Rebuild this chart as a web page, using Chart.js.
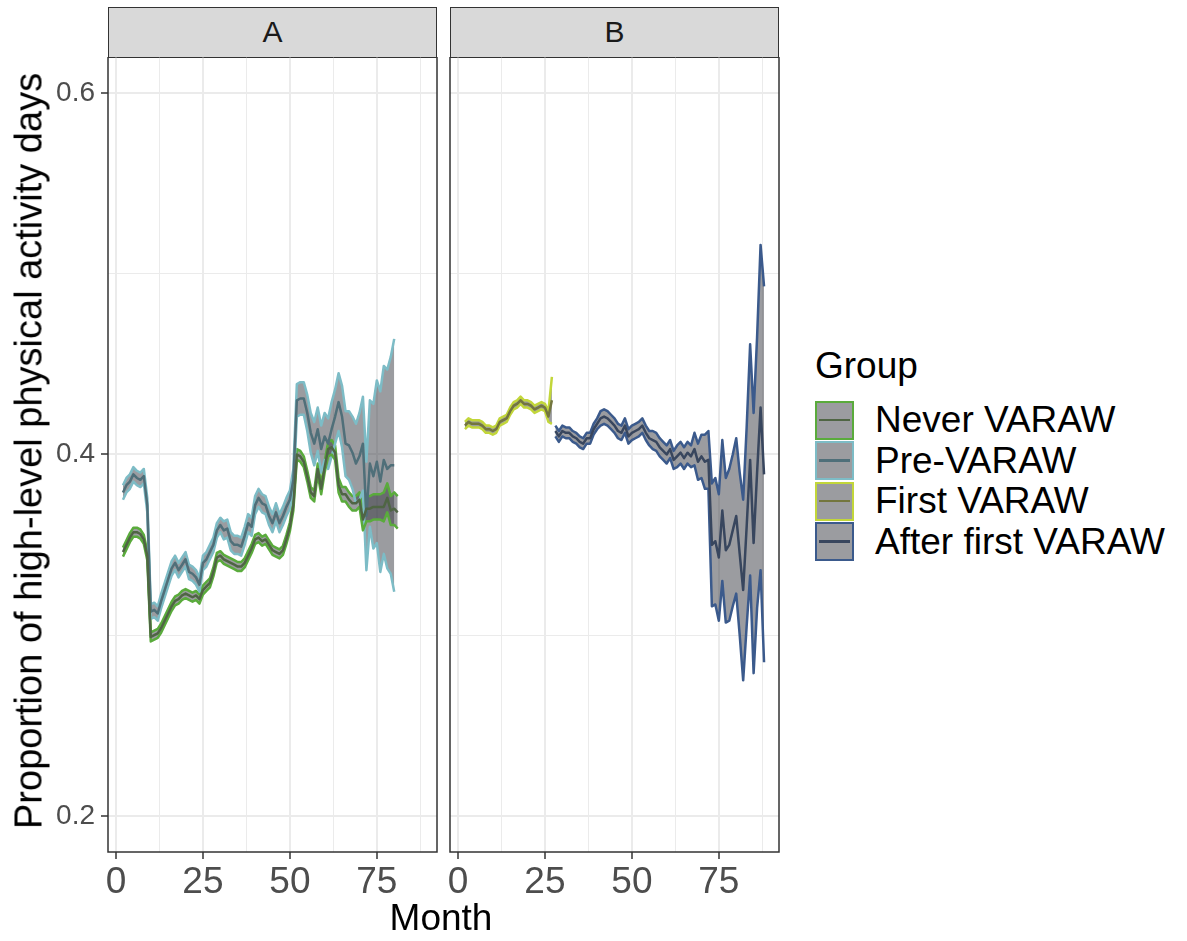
<!DOCTYPE html>
<html>
<head>
<meta charset="utf-8">
<script src="https://cdn.jsdelivr.net/npm/chart.js@4.4.0/dist/chart.umd.min.js"></script>
<style>
    body { margin: 0; background: #fff; width: 1187px; height: 941px; position: relative; overflow: hidden;
           font-family: 'Liberation Sans', Arial, sans-serif; }
    canvas { position: absolute; top: 57px; }
    .strip { position: absolute; top: 7px; height: 51px; width: 329px; background: #d9d9d9; border: 1.5px solid #333;
             box-sizing: border-box; text-align: center; font-size: 30px; line-height: 48px; color: #1a1a1a; }
    .axis-title { position: absolute; font-size: 37px; color: #000; white-space: nowrap; transform: translate(-50%, -50%); }
    #legend { position: absolute; left: 815px; top: 340px; }
    #legend .title { font-size: 37px; color: #000; height: 60px; line-height: 52px; }
    #legend .row { height: 40.5px; display: flex; align-items: center; }
    #legend .key { width: 39px; height: 39px; box-sizing: border-box; border: 2.5px solid; background: #9b9ca0; position: relative; }
    #legend .key span { position: absolute; left: 2px; right: 2px; top: 16px; height: 2.5px; }
    #legend .label { font-size: 37px; margin-left: 21px; color: #000; }
</style>
</head>
<body>
<div class="strip" style="left:108px">A</div>
<div class="strip" style="left:450px">B</div>
<canvas id="chart-a" width="440" height="884" style="left:0"></canvas>
<canvas id="chart-b" width="345" height="884" style="left:440px"></canvas>
<div class="axis-title" style="left:29px; top:451px; font-size:38px; transform: translate(-50%, -50%) rotate(-90deg);">Proportion of high-level physical activity days</div>
<div class="axis-title" style="left:441px; top:918px;">Month</div>
<div id="legend"></div>
<script>
const groupNames = ['Never VARAW', 'Pre-VARAW', 'First VARAW', 'After first VARAW'];
const groupColors = ['#5aab3c', '#7dbcc6', '#c2d63a', '#3b5a8c'];
const lineColors = ['#4f6544', '#4f6f79', '#73763e', '#38465e'];
const ribbonFill = 'rgba(55, 57, 66, 0.5)';

const xTicks = [0, 12.5, 25, 37.5, 50, 62.5, 75, 87.5];
const xLabels = [0, 25, 50, 75];
const yTicks = [0.2, 0.3, 0.4, 0.5, 0.6];
const yLabels = [0.2, 0.4, 0.6];

// panel A
const neverStart = 2;
const neverMean = [0.346, 0.350, 0.354, 0.357, 0.357, 0.356, 0.353, 0.344, 0.299, 0.300,
    0.301, 0.304, 0.308, 0.312, 0.316, 0.319, 0.320, 0.322, 0.323, 0.322,
    0.321, 0.322, 0.320, 0.325, 0.327, 0.329, 0.335, 0.343, 0.344, 0.342,
    0.341, 0.340, 0.339, 0.338, 0.338, 0.340, 0.344, 0.348, 0.353, 0.354,
    0.352, 0.353, 0.350, 0.347, 0.346, 0.345, 0.347, 0.353, 0.360, 0.372,
    0.400, 0.399, 0.396, 0.388, 0.379, 0.377, 0.392, 0.381, 0.393, 0.403,
    0.404, 0.401, 0.383, 0.378, 0.378, 0.375, 0.373, 0.373, 0.375, 0.364,
    0.370, 0.370, 0.371, 0.371, 0.371, 0.371, 0.376, 0.369, 0.370, 0.368];
const neverHw = [0.0025, 0.0025, 0.0025, 0.0025, 0.0025, 0.0025, 0.0025, 0.0025, 0.0025, 0.0025,
    0.0025, 0.0025, 0.0025, 0.0025, 0.0025, 0.0025, 0.0025, 0.0025, 0.0025, 0.0025,
    0.0025, 0.0025, 0.0025, 0.0025, 0.0025, 0.0025, 0.0025, 0.0025, 0.0025, 0.0025,
    0.0025, 0.0025, 0.0025, 0.0025, 0.0025, 0.0025, 0.0025, 0.0025, 0.0025, 0.0025,
    0.0025, 0.0025, 0.0025, 0.0025, 0.0025, 0.0025, 0.0025, 0.0025, 0.0025, 0.003,
    0.003, 0.003, 0.003, 0.003, 0.003, 0.003, 0.003, 0.003, 0.003, 0.004,
    0.004, 0.004, 0.004, 0.004, 0.004, 0.004, 0.004, 0.004, 0.004, 0.006,
    0.007, 0.007, 0.007, 0.007, 0.007, 0.008, 0.008, 0.008, 0.009, 0.009];

const preStart = 2;
const preMean = [0.379, 0.383, 0.385, 0.389, 0.387, 0.386, 0.388, 0.372, 0.313, 0.314,
    0.312, 0.319, 0.325, 0.331, 0.337, 0.340, 0.336, 0.339, 0.342, 0.335,
    0.334, 0.332, 0.328, 0.340, 0.342, 0.346, 0.350, 0.358, 0.361, 0.358,
    0.359, 0.352, 0.350, 0.350, 0.349, 0.355, 0.362, 0.360, 0.372, 0.376,
    0.373, 0.372, 0.366, 0.362, 0.368, 0.362, 0.366, 0.371, 0.375, 0.386,
    0.430, 0.431, 0.431, 0.423, 0.412, 0.406, 0.414, 0.403, 0.410, 0.406,
    0.414, 0.421, 0.429, 0.421, 0.406, 0.405, 0.401, 0.395, 0.399, 0.406,
    0.366, 0.395, 0.388, 0.396, 0.385, 0.397, 0.392, 0.394, 0.394];
const preHw = [0.004, 0.004, 0.004, 0.004, 0.004, 0.004, 0.004, 0.004, 0.004, 0.004,
    0.004, 0.004, 0.004, 0.004, 0.004, 0.004, 0.004, 0.004, 0.004, 0.004,
    0.004, 0.004, 0.004, 0.004, 0.004, 0.004, 0.004, 0.004, 0.004, 0.005,
    0.005, 0.005, 0.005, 0.005, 0.005, 0.005, 0.005, 0.005, 0.005, 0.005,
    0.005, 0.005, 0.005, 0.005, 0.005, 0.005, 0.005, 0.005, 0.005, 0.006,
    0.009, 0.009, 0.009, 0.010, 0.011, 0.012, 0.012, 0.013, 0.013, 0.014,
    0.015, 0.015, 0.016, 0.017, 0.018, 0.019, 0.020, 0.022, 0.024, 0.026,
    0.030, 0.035, 0.040, 0.045, 0.050, 0.052, 0.055, 0.060, 0.070];

// panel B
const firstStart = 2;
const firstMean = [0.416, 0.418, 0.417, 0.417, 0.417, 0.416, 0.414, 0.414, 0.413, 0.414,
    0.418, 0.419, 0.420, 0.424, 0.427, 0.428, 0.430, 0.428, 0.428, 0.427,
    0.425, 0.426, 0.427, 0.426, 0.421, 0.430];
const firstHw = [0.002, 0.002, 0.002, 0.002, 0.002, 0.002, 0.002, 0.002, 0.002, 0.002,
    0.002, 0.002, 0.002, 0.002, 0.002, 0.002, 0.002, 0.002, 0.002, 0.002,
    0.002, 0.002, 0.002, 0.002, 0.003, 0.013];

const afterStart = 28;
const afterMean = [0.413, 0.410, 0.413, 0.412, 0.412, 0.410, 0.409, 0.407, 0.406, 0.409,
    0.409, 0.414, 0.417, 0.420, 0.421, 0.420, 0.418, 0.416, 0.413, 0.412,
    0.416, 0.410, 0.412, 0.413, 0.414, 0.416, 0.412, 0.409, 0.408, 0.407,
    0.404, 0.402, 0.400, 0.403, 0.397, 0.399, 0.401, 0.398, 0.401, 0.399,
    0.403, 0.396, 0.399, 0.396, 0.397, 0.350, 0.352, 0.343, 0.369, 0.347,
    0.350, 0.358, 0.366, 0.345, 0.325, 0.360, 0.397, 0.351, 0.390, 0.426,
    0.389];
const afterHw = [0.003, 0.003, 0.003, 0.003, 0.003, 0.003, 0.003, 0.003, 0.003, 0.003,
    0.003, 0.003, 0.003, 0.004, 0.004, 0.004, 0.004, 0.004, 0.004, 0.004,
    0.004, 0.004, 0.004, 0.004, 0.004, 0.004, 0.004, 0.004, 0.005, 0.005,
    0.005, 0.005, 0.005, 0.005, 0.005, 0.006, 0.006, 0.006, 0.006, 0.006,
    0.009, 0.010, 0.012, 0.015, 0.016, 0.034, 0.035, 0.035, 0.039, 0.040,
    0.042, 0.042, 0.043, 0.045, 0.050, 0.055, 0.064, 0.072, 0.075, 0.090,
    0.104];

const fontFamily = "'Liberation Sans', Arial, sans-serif";

function ribbonSets(start, mean, hw, g) {
    const pts = f => mean.map((v, i) => ({ x: start + i, y: f(v, hw[i]) }));
    const base = { pointRadius: 0, tension: 0, borderJoinStyle: 'round' };
    return [
        { ...base, data: pts((v, h) => v - h), borderColor: groupColors[g], borderWidth: 2.5, fill: false, order: 1 },
        { ...base, data: pts((v, h) => v + h), borderColor: groupColors[g], borderWidth: 2.5, fill: '-1',
          backgroundColor: ribbonFill, order: 2 },
        { ...base, data: pts(v => v), borderColor: lineColors[g], borderWidth: 2.5, fill: false, order: 0 }
    ];
}

const panelBorder = {
    id: 'panelBorder',
    afterDraw(chart) {
        const { ctx, chartArea: a } = chart;
        ctx.save();
        ctx.strokeStyle = '#333333';
        ctx.lineWidth = 1.5;
        ctx.strokeRect(a.left, a.top, a.right - a.left, a.bottom - a.top);
        ctx.restore();
    }
};

function noPad(s) {
    s.paddingTop = 0;
    s.paddingBottom = 0;
    s.paddingLeft = 0;
    s.paddingRight = 0;
}

function isMajor(list, c) {
    const v = c.tick ? c.tick.value : NaN;
    return list.some(l => Math.abs(l - v) < 1e-9);
}

function makeOptions(showY, yWidth, padRight) {
    return {
        responsive: false,
        animation: false,
        layout: { padding: { left: 0, right: padRight, top: 0, bottom: 0 } },
        plugins: { legend: { display: false }, tooltip: { enabled: false } },
        scales: {
            x: {
                type: 'linear', min: -2.3, max: 92.3,
                afterBuildTicks: s => { s.ticks = xTicks.map(v => ({ value: v })); },
                afterFit: s => { s.height = 89; noPad(s); },
                ticks: {
                    autoSkip: false, maxRotation: 0, padding: 2, color: '#4d4d4d',
                    font: { size: 37, family: fontFamily },
                    callback: v => xLabels.includes(v) ? String(v) : ''
                },
                grid: {
                    color: '#ebebeb',
                    lineWidth: c => isMajor(xLabels, c) ? 2 : 1,
                    tickLength: 7,
                    tickWidth: 1.5,
                    tickColor: c => isMajor(xLabels, c) ? '#333333' : 'rgba(0,0,0,0)'
                },
                border: { display: false }
            },
            y: {
                type: 'linear', min: 0.18, max: 0.62,
                afterBuildTicks: s => { s.ticks = yTicks.map(v => ({ value: v })); },
                afterFit: s => { s.width = yWidth; noPad(s); },
                ticks: {
                    display: showY, padding: 6, color: '#4d4d4d',
                    font: { size: 28, family: fontFamily },
                    callback: v => yLabels.some(l => Math.abs(l - v) < 1e-9) ? v.toFixed(1) : ''
                },
                grid: {
                    color: '#ebebeb',
                    drawTicks: showY,
                    lineWidth: c => isMajor(yLabels, c) ? 2 : 1,
                    tickLength: 7,
                    tickWidth: 1.5,
                    tickColor: c => isMajor(yLabels, c) ? '#333333' : 'rgba(0,0,0,0)'
                },
                border: { display: false }
            }
        }
    };
}

new Chart(document.getElementById('chart-a'), {
    type: 'line',
    data: { datasets: [...ribbonSets(neverStart, neverMean, neverHw, 0), ...ribbonSets(preStart, preMean, preHw, 1)] },
    options: makeOptions(true, 108, 3),
    plugins: [panelBorder]
});

new Chart(document.getElementById('chart-b'), {
    type: 'line',
    data: { datasets: [...ribbonSets(firstStart, firstMean, firstHw, 2), ...ribbonSets(afterStart, afterMean, afterHw, 3)] },
    options: makeOptions(false, 10, 6),
    plugins: [panelBorder]
});

// legend
const legend = document.getElementById('legend');
legend.innerHTML = '<div class="title">Group</div>' + groupNames.map((name, i) =>
    '<div class="row"><div class="key" style="border-color:' + groupColors[i] + '"><span style="background:' +
    lineColors[i] + '"></span></div><div class="label">' + name + '</div></div>').join('');
</script>
</body>
</html>
